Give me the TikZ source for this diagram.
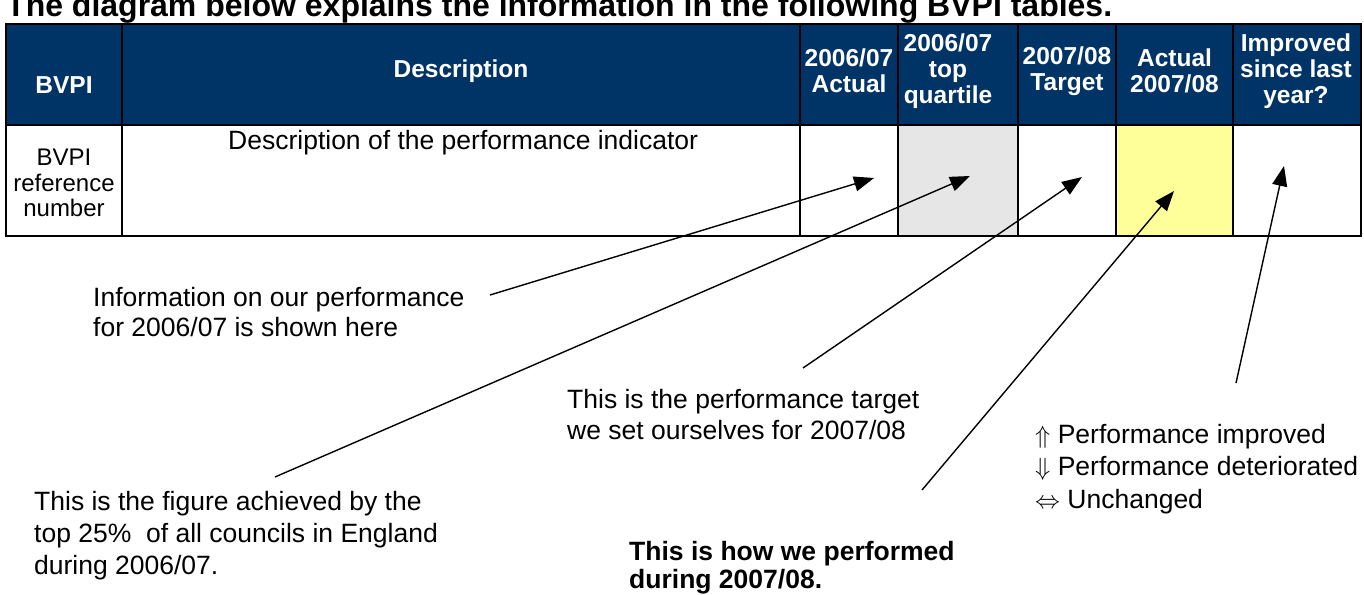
\documentclass[tikz,border=0pt]{standalone}
\usepackage{fontspec}
\setmainfont{Liberation Sans}
\usetikzlibrary{arrows.meta}
\definecolor{hdrblue}{RGB}{0,51,102}
\definecolor{cellgray}{RGB}{230,230,230}
\definecolor{cellyellow}{RGB}{255,255,153}
\tikzset{
  hdr/.style={draw=black, line width=1.6pt, fill=hdrblue, text=white, font=\bfseries\fontsize{24.5}{26}\selectfont, align=center, inner sep=0pt},
  datacell/.style={draw=black, line width=1.6pt, fill=white, inner sep=0pt},
  body/.style={font=\fontsize{26.5}{31}\selectfont, align=left, inner sep=0pt},
  pointer/.style={line width=1.4pt, -{Triangle[length=20pt,width=15pt]}},
}
\begin{document}
\begin{tikzpicture}[x=1pt,y=-1pt]
\useasboundingbox (0,0) rectangle (1364,594);
\fill[white] (0,0) rectangle (1364,594);
% title (cut at top, as in the reference)
\node[anchor=base west, inner sep=0pt, font=\bfseries\fontsize{32}{36}\selectfont] (title) at (6,17) {The diagram below explains the information in the following BVPI tables.};
% header cells
\node[hdr, minimum width=116pt, minimum height=101pt] (h1) at (64,74.5) {};
\node[hdr, minimum width=678pt, minimum height=101pt] (h2) at (461,74.5) {};
\node[hdr, minimum width=98pt, minimum height=101pt] (h3) at (849,74.5) {};
\node[hdr, minimum width=120pt, minimum height=101pt] (h4) at (958,74.5) {};
\node[hdr, minimum width=98pt, minimum height=101pt] (h5) at (1067,74.5) {};
\node[hdr, minimum width=117pt, minimum height=101pt] (h6) at (1174.5,74.5) {};
\node[hdr, minimum width=128pt, minimum height=101pt] (h7) at (1297,74.5) {};
% header texts
\node[hdr, draw=none, fill=none] (t1) at (64,85) {BVPI};
\node[hdr, draw=none, fill=none] (t2) at (461,71) {Description};
\node[hdr, draw=none, fill=none] (t3) at (849,71) {2006/07\\Actual};
\node[hdr, draw=none, fill=none] (t4) at (948,71) {2006/07\\top\\quartile};
\node[hdr, draw=none, fill=none] (t5) at (1067,71) {2007/08\\Target};
\node[hdr, draw=none, fill=none] (t6) at (1174.5,71) {Actual\\2007/08};
\node[hdr, draw=none, fill=none] (t7) at (1296,71) {Improved\\since last\\year?};
% data cells
\node[datacell, minimum width=116pt, minimum height=111pt] (d1) at (64,180.5) {};
\node[datacell, minimum width=678pt, minimum height=111pt] (d2) at (461,180.5) {};
\node[datacell, minimum width=98pt, minimum height=111pt] (d3) at (849,180.5) {};
\node[datacell, fill=cellgray, minimum width=120pt, minimum height=111pt] (d4) at (958,180.5) {};
\node[datacell, minimum width=98pt, minimum height=111pt] (d5) at (1067,180.5) {};
\node[datacell, fill=cellyellow, minimum width=117pt, minimum height=111pt] (d6) at (1174.5,180.5) {};
\node[datacell, minimum width=128pt, minimum height=111pt] (d7) at (1297,180.5) {};
\node[font=\fontsize{24}{25.5}\selectfont, align=center, inner sep=0pt] (ref) at (64,183) {BVPI\\reference\\number};
\node[body, anchor=west] (desc) at (228,143) {Description of the performance indicator};
% explanation texts
\node[body, anchor=west, font=\fontsize{26.5}{29.5}\selectfont] (info) at (93,312) {Information on our performance\\for 2006/07 is shown here};
\node[body, anchor=west, font=\fontsize{26.5}{32}\selectfont] (fig) at (34,536) {This is the figure achieved by the\\top 25\%\ \ of all councils in England\\during 2006/07.};
\node[body, anchor=west] (targ) at (567,414.5) {This is the performance target\\we set ourselves for 2007/08};
\node[body, anchor=west, font=\fontsize{26.5}{32.5}\selectfont] (legend) at (1035,469) {$\Uparrow$ Performance improved\\$\Downarrow$ Performance deteriorated\\$\Leftrightarrow$ Unchanged};
\node[body, anchor=west, font=\bfseries\fontsize{26.5}{28}\selectfont] (perf) at (629,568) {This is how we performed\\during 2007/08.};
% arrow ends
\coordinate (a1s) at (490,295); \coordinate (a1e) at (874,178);
\coordinate (a2s) at (275,477); \coordinate (a2e) at (970,176);
\coordinate (a3s) at (803,368); \coordinate (a3e) at (1082,177);
\coordinate (a4s) at (922,490); \coordinate (a4e) at (1174,191);
\coordinate (a5s) at (1236,383); \coordinate (a5e) at (1284,166);
\draw[pointer] (a1s) -- (a1e);
\draw[pointer] (a2s) -- (a2e);
\draw[pointer] (a3s) -- (a3e);
\draw[pointer] (a4s) -- (a4e);
\draw[pointer] (a5s) -- (a5e);
\end{tikzpicture}
\end{document}
